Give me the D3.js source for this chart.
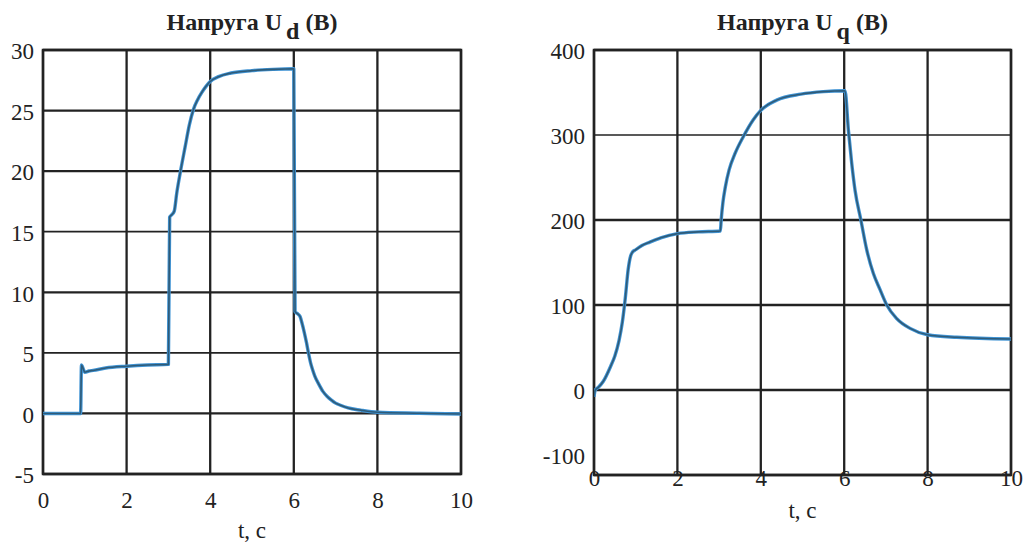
<!DOCTYPE html>
<html><head><meta charset="utf-8">
<script src="https://cdn.jsdelivr.net/npm/d3@7"></script>
<style>
body{margin:0;background:#fff}
svg{display:block}
text{font-family:"Liberation Serif","Times New Roman",serif;fill:#222}
</style></head>
<body><svg id="c" width="1030" height="546"></svg>
<script>
// ---- data ----
const tickX = [0, 2, 4, 6, 8, 10];
const ticksUd = [-5, 0, 5, 10, 15, 20, 25, 30];
const ticksUq = [-100, 0, 100, 200, 300, 400];

const tUd = [0, 0.9, 0.92, 0.95, 1.0, 1.1, 1.2, 1.5, 2.0, 2.5, 3.0, 3.03, 3.08, 3.14, 3.2, 3.29, 3.4, 3.5, 3.6, 3.7, 3.8, 3.9, 4.0, 4.2, 4.5, 5.0, 5.5, 6.0,
  6.03, 6.1, 6.15, 6.2, 6.25, 6.3, 6.35, 6.4, 6.45, 6.5, 6.6, 6.7, 6.8, 6.9, 7.0, 7.1, 7.3, 7.6, 8.0, 9.0, 10];
const ud = [0, 0, 4.0, 3.8, 3.4, 3.5, 3.55, 3.75, 3.9, 4.0, 4.05, 16.2, 16.4, 16.7, 18.2, 20.0, 22.0, 23.8, 25.1, 25.9, 26.5, 27.0, 27.4, 27.8, 28.1, 28.3, 28.4, 28.45,
  8.4, 8.2, 8.0, 7.4, 6.7, 5.9, 5.0, 4.2, 3.6, 3.1, 2.4, 1.8, 1.4, 1.1, 0.85, 0.7, 0.45, 0.27, 0.1, 0.02, -0.05];

const tUq = [0, 0.03, 0.1, 0.22, 0.4, 0.5, 0.6, 0.68, 0.75, 0.82, 0.88, 0.92, 1.0, 1.15, 1.34, 1.6, 2.0, 2.5, 3.03, 3.05, 3.09,
  3.15, 3.24, 3.38, 3.58, 3.82, 4.0, 4.38, 4.96, 5.5, 6.02, 6.10, 6.18, 6.26, 6.40, 6.54, 6.70, 6.86, 7.02, 7.26, 7.58, 8.0, 8.7, 10];
const uq = [-8, 0, 3, 10, 28, 40, 58, 80, 108, 142, 158, 162, 165, 170, 174, 179, 184, 186, 187, 200, 220,
  239, 259, 278, 298, 318, 329, 341, 348, 351, 352, 306, 267, 235, 200, 165, 137, 118, 100, 84, 72.5, 65, 62, 60];

// ---- drawing ----
const svg = d3.select("#c");
const SERIF = '"Liberation Serif","Times New Roman",serif';

function panel(cfg) {
  const x = d3.scaleLinear().domain([0, 10]).range([cfg.left, cfg.right]);
  const y = d3.scaleLinear().domain(cfg.ydom).range([cfg.bottom, cfg.top]);
  const g = svg.append("g");

  // grid
  g.selectAll(".vg").data(tickX).enter().append("line")
    .attr("x1", d => x(d)).attr("x2", d => x(d))
    .attr("y1", cfg.top).attr("y2", cfg.bottom)
    .attr("stroke", "#222").attr("stroke-width", 2.3);
  g.selectAll(".hg").data(cfg.yticks).enter().append("line")
    .attr("x1", cfg.left).attr("x2", cfg.right)
    .attr("y1", d => y(d)).attr("y2", d => y(d))
    .attr("stroke", "#222").attr("stroke-width", d => cfg.thin.includes(d) ? 1.7 : 2.3);
  g.append("rect").attr("x", cfg.left).attr("y", cfg.top)
    .attr("width", cfg.right - cfg.left).attr("height", cfg.bottom - cfg.top)
    .attr("fill", "none").attr("stroke", "#222").attr("stroke-width", 2.5);

  // clip
  const cid = "clip" + cfg.id;
  svg.append("clipPath").attr("id", cid).append("rect")
    .attr("x", cfg.left).attr("y", cfg.top - 2)
    .attr("width", cfg.right - cfg.left).attr("height", cfg.bottom - cfg.top + 4);

  const data = cfg.t.map((t, i) => [t, cfg.v[i]]);
  const line = d3.line().x(d => x(d[0])).y(d => y(d[1])).curve(d3.curveMonotoneX);
  g.append("path").datum(data).attr("d", line).attr("clip-path", `url(#${cid})`)
    .attr("fill", "none").attr("stroke", "#3f93d4").attr("stroke-width", 3.4)
    .attr("stroke-linejoin", "round");
  g.append("path").datum(data).attr("d", line).attr("clip-path", `url(#${cid})`)
    .attr("fill", "none").attr("stroke", "#2f5b78").attr("stroke-width", 1.6)
    .attr("stroke-linejoin", "round");

  // x axis labels
  const ax = g.append("g").attr("transform", `translate(0,${cfg.bottom})`)
    .call(d3.axisBottom(x).tickValues(tickX).tickSize(0).tickFormat(d => String(d)));
  ax.select(".domain").remove();
  ax.attr("font-family", SERIF).attr("font-size", 23);
  ax.selectAll("text").attr("dy", null).attr("y", cfg.xLabY)
    .style("font-family", SERIF).style("font-size", "23px").attr("fill", "#222");

  // y axis labels
  const ay = g.append("g").attr("transform", `translate(${cfg.left},0)`)
    .call(d3.axisLeft(y).tickValues(cfg.yticks).tickSize(0).tickPadding(9).tickFormat(d => String(d)));
  ay.select(".domain").remove();
  ay.attr("font-family", SERIF).attr("font-size", 23);
  ay.selectAll("text").attr("dy", "0.38em")
    .style("font-family", SERIF).style("font-size", "23px").attr("fill", "#222")
    .attr("transform", d => d === cfg.shiftTick ? `translate(0,${cfg.shiftBy})` : null);

  // axis title
  const cx = (cfg.left + cfg.right) / 2;
  g.append("text").attr("x", cx).attr("y", cfg.tLabY).attr("text-anchor", "middle")
    .style("font-family", SERIF).style("font-size", "23px").text("t, c");

  // title
  const tt = g.append("text").attr("x", cx).attr("y", 30).attr("text-anchor", "middle")
    .style("font-family", SERIF).style("font-size", "24px").style("font-weight", "bold");
  tt.append("tspan").text("Напруга U");
  tt.append("tspan").attr("dx", 4).attr("dy", 9).text(cfg.sub);
  tt.append("tspan").attr("dy", -9).text(" (В)");
}

panel({id: "L", left: 43, right: 461, top: 50, bottom: 474, ydom: [-5, 30], yticks: ticksUd,
  thin: [5, 15], t: tUd, v: ud, xLabY: 34, tLabY: 538, sub: "d", shiftTick: null, shiftBy: 0});
panel({id: "R", left: 594, right: 1011, top: 50, bottom: 475, ydom: [-100, 400], yticks: ticksUq,
  thin: [300], t: tUq, v: uq, xLabY: 11, tLabY: 518, sub: "q", shiftTick: -100, shiftBy: -20});
</script></body></html>
